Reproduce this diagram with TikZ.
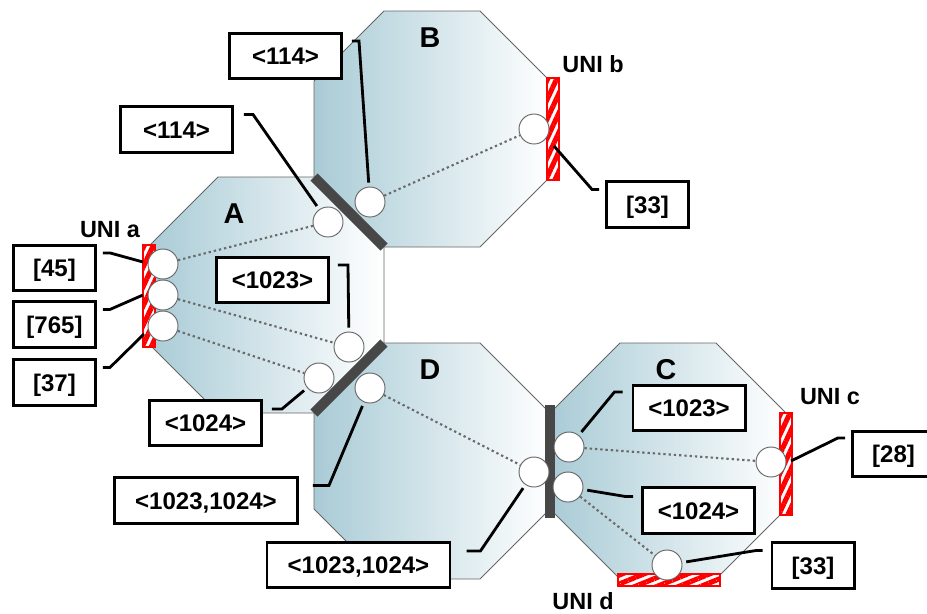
\documentclass[tikz,border=0pt]{standalone}
\usepackage{fontspec}
\setmainfont{Liberation Sans}
\usepackage{xcolor}
\usepackage{tikz}
\usetikzlibrary{patterns.meta}
\definecolor{OctBlue}{HTML}{A9CBD6}
\definecolor{OctEdge}{HTML}{666666}
\definecolor{JointGray}{HTML}{474747}
\definecolor{DotGray}{HTML}{6A6A6A}
\definecolor{UniRed}{HTML}{FF0000}
\tikzset{
  octagon/.style={left color=OctBlue,right color=white,draw=OctEdge,line width=0.8pt},
  joint/.style={JointGray,line width=8.5pt},
  unibarv/.style={draw=UniRed,line width=1.7pt,fill=white,postaction={pattern={Lines[angle=65,distance=7pt,line width=4.3pt]},pattern color=UniRed}},
  unibarh/.style={draw=UniRed,line width=1.7pt,fill=white,postaction={pattern={Lines[angle=22,distance=7pt,line width=4.3pt]},pattern color=UniRed}},
  port/.style={circle,draw=OctEdge,fill=white,line width=0.8pt,minimum size=0.9cm,inner sep=0pt},
  lsp/.style={DotGray,line width=1.8pt,dash pattern=on 2pt off 2.5pt},
  tag/.style={draw,fill=white,line width=2.4pt,font=\bfseries\fontsize{20.5}{23}\selectfont,minimum height=1.36cm,text height=14.7pt,text depth=0pt,inner sep=0pt},
  leader/.style={line width=2.4pt},
  toport/.style={shorten >=0.12cm},
  unilabel/.style={anchor=base,inner sep=0pt,font=\bfseries\fontsize{20}{23}\selectfont},
  nelabel/.style={anchor=base,font=\bfseries\fontsize{24.5}{28}\selectfont}
}
\begin{document}
\begin{tikzpicture}[x=0.03cm,y=-0.03cm]
\path[use as bounding box] (0,0) rectangle (927,613);
% network elements
\path[octagon] (384,11) -- (480,11) -- (550,81) -- (550,177) -- (480,247) -- (384,247) -- (314,177) -- (314,81) -- cycle;
\path[octagon] (218,177) -- (314,177) -- (384,247) -- (384,343) -- (314,413) -- (218,413) -- (148,343) -- (148,247) -- cycle;
\path[octagon] (384,343) -- (480,343) -- (550,413) -- (550,509) -- (480,579) -- (384,579) -- (314,509) -- (314,413) -- cycle;
\path[octagon] (620,343) -- (716,343) -- (786,413) -- (786,509) -- (716,579) -- (620,579) -- (550,509) -- (550,413) -- cycle;
% internal links
\draw[joint] (314,177) -- (384,247);
\draw[joint] (384,343) -- (314,413);
\draw[joint] (550,405) -- (550,518);
% user network interfaces
\draw[unibarv] (143,245) rectangle (155,347);
\draw[unibarv] (547,78) rectangle (559,180);
\draw[unibarv] (780,413) rectangle (792,515);
\draw[unibarh] (618,574) rectangle (720,586);
\coordinate (uA1) at (143,262);
\coordinate (uA2) at (143,295);
\coordinate (uA3) at (144,334);
\coordinate (uB) at (554,146);
\coordinate (uC) at (791,461);
% ports
\node[port] (a1) at (163,264) {};
\node[port] (a2) at (163,295) {};
\node[port] (a3) at (163,326) {};
\node[port] (aB) at (328,222) {};
\node[port] (aD1) at (349,347) {};
\node[port] (aD2) at (319,378) {};
\node[port] (bA) at (370,202) {};
\node[port] (bU) at (534,129) {};
\node[port] (dA) at (370,388) {};
\node[port] (dC) at (534,472) {};
\node[port] (c1) at (569,447) {};
\node[port] (c2) at (568,487) {};
\node[port] (cU) at (771,462) {};
\node[port] (cD) at (667,565) {};
% label switched paths
\draw[lsp] (a1) -- (aB);
\draw[lsp] (a2) -- (aD1);
\draw[lsp] (a3) -- (aD2);
\draw[lsp] (bA) -- (bU);
\draw[lsp] (dA) -- (dC);
\draw[lsp] (c1) -- (cU);
\draw[lsp] (c2) -- (cD);
% tags
\node[tag,minimum width=3.365cm] (t114b) at (285.5,56) {<114>};
\node[tag,minimum width=3.365cm] (t114a) at (176.5,129.5) {<114>};
\node[tag,minimum width=2.465cm] (t33b) at (647.5,204.5) {[33]};
\node[tag,minimum width=2.465cm] (t45) at (54.5,268) {[45]};
\node[tag,minimum width=2.465cm] (t765) at (54.5,324.5) {[765]};
\node[tag,minimum width=2.465cm] (t37) at (54.5,382.5) {[37]};
\node[tag,minimum width=3.365cm] (t1023a) at (272.5,280) {<1023>};
\node[tag,minimum width=3.365cm] (t1024a) at (205.5,423) {<1024>};
\node[tag,minimum width=5.495cm] (tDl) at (206,500.5) {<1023,1024>};
\node[tag,minimum width=5.495cm] (tDr) at (358.5,565) {<1023,1024>};
\node[tag,minimum width=3.365cm] (t1023c) at (689,408) {<1023>};
\node[tag,minimum width=3.365cm] (t1024c) at (698.5,510.5) {<1024>};
\node[tag,minimum width=2.465cm] (t28) at (893.5,454) {[28]};
\node[tag,minimum width=2.465cm] (t33c) at (813,565.5) {[33]};
% leaders
\draw[leader,toport] ([xshift=0.27cm,yshift=-0.27cm]t114b.north east) -- ++(7,0) -- (bA);
\draw[leader,toport] ([xshift=0.3cm,yshift=-0.27cm]t114a.north east) -- ++(9,0) -- (aB);
\draw[leader] ([xshift=-0.18cm,yshift=-0.27cm]t33b.north west) -- ++(-7,0) -- (uB);
\draw[leader] ([xshift=0.18cm,yshift=-0.27cm]t45.north east) -- ++(7,0) -- (uA1);
\draw[leader] ([xshift=0.18cm,yshift=-0.27cm]t765.north east) -- ++(7,0) -- (uA2);
\draw[leader] ([xshift=0.18cm,yshift=-0.27cm]t37.north east) -- ++(7,0) -- (uA3);
\draw[leader,toport] ([xshift=0.24cm,yshift=-0.27cm]t1023a.north east) -- ++(10,0) -- (aD1);
\draw[leader,toport] ([xshift=0.27cm,yshift=-0.3cm]t1024a.north east) -- ++(10,0) -- (aD2);
\draw[leader,toport] ([xshift=0.42cm,yshift=-0.27cm]tDl.north east) -- ++(16,0) -- (dA);
\draw[leader,toport] ([xshift=0.45cm,yshift=-0.3cm]tDr.north east) -- ++(14,0) -- (dC);
\draw[leader,toport] ([xshift=-0.27cm,yshift=-0.24cm]t1023c.north west) -- ++(-8,0) -- (c1);
\draw[leader,toport] ([xshift=-0.24cm,yshift=-0.3cm]t1024c.north west) -- ++(-8,0) -- (c2);
\draw[leader] ([xshift=-0.18cm,yshift=-0.24cm]t28.north west) -- ++(-7,0) -- (uC);
\draw[leader,toport] ([xshift=-0.24cm,yshift=-0.27cm]t33c.north west) -- ++(-6,0) -- (cD);
% names
\node[nelabel] (nA) at (234,223) {A};
\node[nelabel] (nB) at (430,47) {B};
\node[nelabel] (nD) at (430,379) {D};
\node[nelabel] (nC) at (666,379) {C};
\node[unilabel] (ua) at (110,237) {UNI a};
\node[unilabel] (ub) at (593,72) {UNI b};
\node[unilabel] (uc) at (830,404) {UNI c};
\node[unilabel] (ud) at (583,609) {UNI d};
\end{tikzpicture}
\end{document}
